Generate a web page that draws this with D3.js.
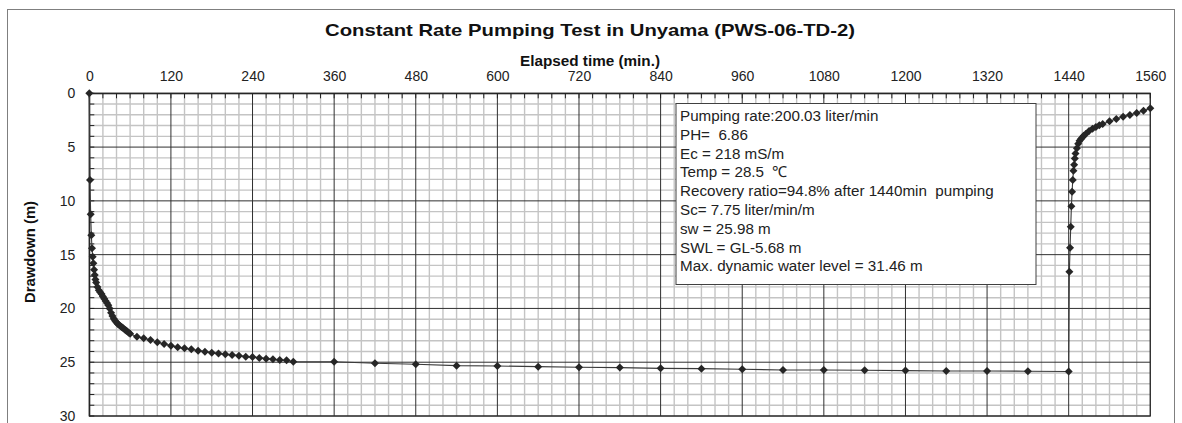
<!DOCTYPE html>
<html>
<head>
<meta charset="utf-8">
<script src="https://cdn.jsdelivr.net/npm/d3@7"></script>
<style>
  html, body { margin: 0; padding: 0; background: #fff; }
  svg { display: block; }
</style>
</head>
<body>
<svg id="chart" width="1182" height="423"></svg>
<script>
// ---- Data ----
const title = "Constant Rate Pumping Test in Unyama (PWS-06-TD-2)";
const xTitle = "Elapsed time (min.)";
const yTitle = "Drawdown (m)";
const xTicks = [0,120,240,360,480,600,720,840,960,1080,1200,1320,1440,1560];
const yTicks = [0,5,10,15,20,25,30];

// Pumping phase
const pumpTime = [0,1,2,3,4,5,6,7,8,9,10,12,14,16,18,20,22,24,26,28,30,32,34,36,38,40,42,44,46,48,50,52,54,56,58,60,
  70,80,90,100,110,120,130,140,150,160,170,180,190,200,210,220,230,240,250,260,270,280,290,300,
  360,420,480,540,600,660,720,780,840,900,960,1020,1080,1140,1200,1260,1320,1380,1440];
const pumpDrawdown = [0,8.05,11.25,13.2,14.4,15.2,15.8,16.4,16.9,17.3,17.6,18.0,18.3,18.5,18.65,18.9,19.1,19.3,19.5,19.7,20.0,20.4,20.7,20.95,21.15,21.3,21.45,21.55,21.65,21.75,21.85,21.95,22.05,22.15,22.25,22.35,
  22.63,22.78,22.93,23.15,23.31,23.46,23.62,23.71,23.8,23.93,24.02,24.11,24.2,24.27,24.33,24.39,24.49,24.51,24.6,24.67,24.73,24.79,24.82,24.95,
  24.95,25.1,25.19,25.32,25.35,25.41,25.47,25.5,25.57,25.6,25.66,25.72,25.72,25.75,25.78,25.81,25.81,25.84,25.86];

// Recovery phase
const recTime = [1441,1442,1443,1444,1445,1446,1447,1448,1449,1450,1452,1454,1456,1458,1460,1462,1465,1470,1475,1480,1485,1490,
  1500,1510,1520,1530,1540,1550,1560];
const recDrawdown = [16.6,14.35,12.4,10.5,9.15,8.05,7.2,6.65,6.05,5.6,5.1,4.7,4.4,4.25,4.12,3.95,3.78,3.5,3.3,3.13,2.98,2.85,
  2.6,2.39,2.17,2.02,1.82,1.63,1.4];

const infoLines = [
  "Pumping rate:200.03 liter/min",
  "PH=  6.86",
  "Ec = 218 mS/m",
  "Temp = 28.5  \u2103",
  "Recovery ratio=94.8% after 1440min  pumping",
  "Sc= 7.75 liter/min/m",
  "sw = 25.98 m",
  "SWL = GL-5.68 m",
  "Max. dynamic water level = 31.46 m"
];

// ---- Layout ----
const svg = d3.select("#chart");
const L = 89.3, R = 1150.3, T = 93.3, B = 416;
const x = d3.scaleLinear().domain([0,1560]).range([L,R]);
const y = d3.scaleLinear().domain([0,30]).range([T,B]);
const sansFont = "'Liberation Sans', Arial, sans-serif";

// outer frame
svg.append("rect").attr("x",7.5).attr("y",9.5).attr("width",1167).attr("height",430)
  .attr("fill","#fff").attr("stroke","#7f7f7f").attr("stroke-width",1);

// minor grid
const g = svg.append("g");
const xMinor = d3.range(0,1561,20).filter(v => v % 120 !== 0);
const yMinor = d3.range(0,31,1).filter(v => v % 5 !== 0);
g.selectAll(".vmin").data(xMinor).join("line")
  .attr("x1",d=>x(d)).attr("x2",d=>x(d)).attr("y1",T).attr("y2",B)
  .attr("stroke","#c4c4c4").attr("stroke-width",1.4);
g.selectAll(".hmin").data(yMinor).join("line")
  .attr("x1",L).attr("x2",R).attr("y1",d=>y(d)).attr("y2",d=>y(d))
  .attr("stroke","#c4c4c4").attr("stroke-width",1.4);
// major grid
g.selectAll(".vmaj").data(xTicks).join("line")
  .attr("x1",d=>x(d)).attr("x2",d=>x(d)).attr("y1",T).attr("y2",B)
  .attr("stroke","#303030").attr("stroke-width",1);
g.selectAll(".hmaj").data(yTicks).join("line")
  .attr("x1",L).attr("x2",R).attr("y1",d=>y(d)).attr("y2",d=>y(d))
  .attr("stroke","#303030").attr("stroke-width",1);

// plot border
svg.append("rect").attr("x",L).attr("y",T).attr("width",R-L).attr("height",B-T)
  .attr("fill","none").attr("stroke","#303030").attr("stroke-width",1.2);

// top axis with inner minor ticks
const xAxis = d3.axisTop(x).tickValues(xTicks).tickSize(0).tickPadding(12).tickFormat(d3.format("d"));
const xa = svg.append("g").attr("transform",`translate(0,${T})`).call(xAxis);
xa.select(".domain").attr("stroke","#222");
xa.selectAll("text").attr("font-family",sansFont).attr("font-size",14).attr("fill","#222");
svg.append("g").selectAll("line").data(d3.range(0,1561,20)).join("line")
  .attr("x1",d=>x(d)).attr("x2",d=>x(d)).attr("y1",T).attr("y2",T+5)
  .attr("stroke","#222").attr("stroke-width",1);

// left axis with inner minor ticks
const yAxis = d3.axisLeft(y).tickValues(yTicks).tickSize(0).tickPadding(14).tickFormat(d3.format("d"));
const ya = svg.append("g").attr("transform",`translate(${L},0)`).call(yAxis);
ya.select(".domain").attr("stroke","#222");
ya.selectAll("text").attr("font-family",sansFont).attr("font-size",14).attr("fill","#222");
svg.append("g").selectAll("line").data(d3.range(0,31,1)).join("line")
  .attr("x1",L).attr("x2",L+5).attr("y1",d=>y(d)).attr("y2",d=>y(d))
  .attr("stroke","#222").attr("stroke-width",1);

// data
const pumpData = pumpTime.map((t,i)=>({t, d: pumpDrawdown[i]}));
const recData = recTime.map((t,i)=>({t, d: recDrawdown[i]}));
const allData = pumpData.concat(recData);
const line = d3.line().x(p=>x(p.t)).y(p=>y(p.d));
svg.append("path").datum(allData).attr("d",line)
  .attr("fill","none").attr("stroke","#3a3a3a").attr("stroke-width",1.1);
const sym = d3.symbol().type(d3.symbolSquare).size(32);
svg.append("g").selectAll("path").data(allData).join("path")
  .attr("d",sym)
  .attr("transform",p=>`translate(${x(p.t)},${y(p.d)}) rotate(45)`)
  .attr("fill","#262626");

// info box
const boxX = 676, boxY = 103.5, boxW = 360, boxH = 181;
svg.append("rect").attr("x",boxX).attr("y",boxY).attr("width",boxW).attr("height",boxH)
  .attr("fill","#fff").attr("stroke","#404040").attr("stroke-width",1);
const info = svg.append("g");
const infoTexts = info.selectAll("text").data(infoLines).join("text")
  .attr("x",680).attr("y",(d,i)=>115.7 + i*18.8)
  .attr("dy","0.35em")
  .attr("font-family",sansFont).attr("font-size",14).attr("fill","#222")
  .attr("xml:space","preserve").style("white-space","pre")
  .text(d=>d);
// fit widest line to reference width
const w = infoTexts.nodes()[4].getComputedTextLength();
const fs = 14 * 314 / w;
infoTexts.attr("font-size",fs);

// titles
svg.append("text").attr("x",590).attr("y",30).attr("dy","0.35em")
  .attr("text-anchor","middle").attr("font-family",sansFont).attr("font-weight","bold")
  .attr("font-size",17).attr("fill","#111")
  .attr("textLength",530).attr("lengthAdjust","spacingAndGlyphs")
  .text(title);
svg.append("text").attr("x",590).attr("y",61).attr("dy","0.35em")
  .attr("text-anchor","middle").attr("font-family",sansFont).attr("font-weight","bold")
  .attr("font-size",14).attr("fill","#111")
  .attr("textLength",140).attr("lengthAdjust","spacingAndGlyphs")
  .text(xTitle);
svg.append("text").attr("transform","translate(30,252) rotate(-90)").attr("dy","0.35em")
  .attr("text-anchor","middle").attr("font-family",sansFont).attr("font-weight","bold")
  .attr("font-size",14).attr("fill","#111")
  .attr("textLength",102).attr("lengthAdjust","spacingAndGlyphs")
  .text(yTitle);
</script>
</body>
</html>
